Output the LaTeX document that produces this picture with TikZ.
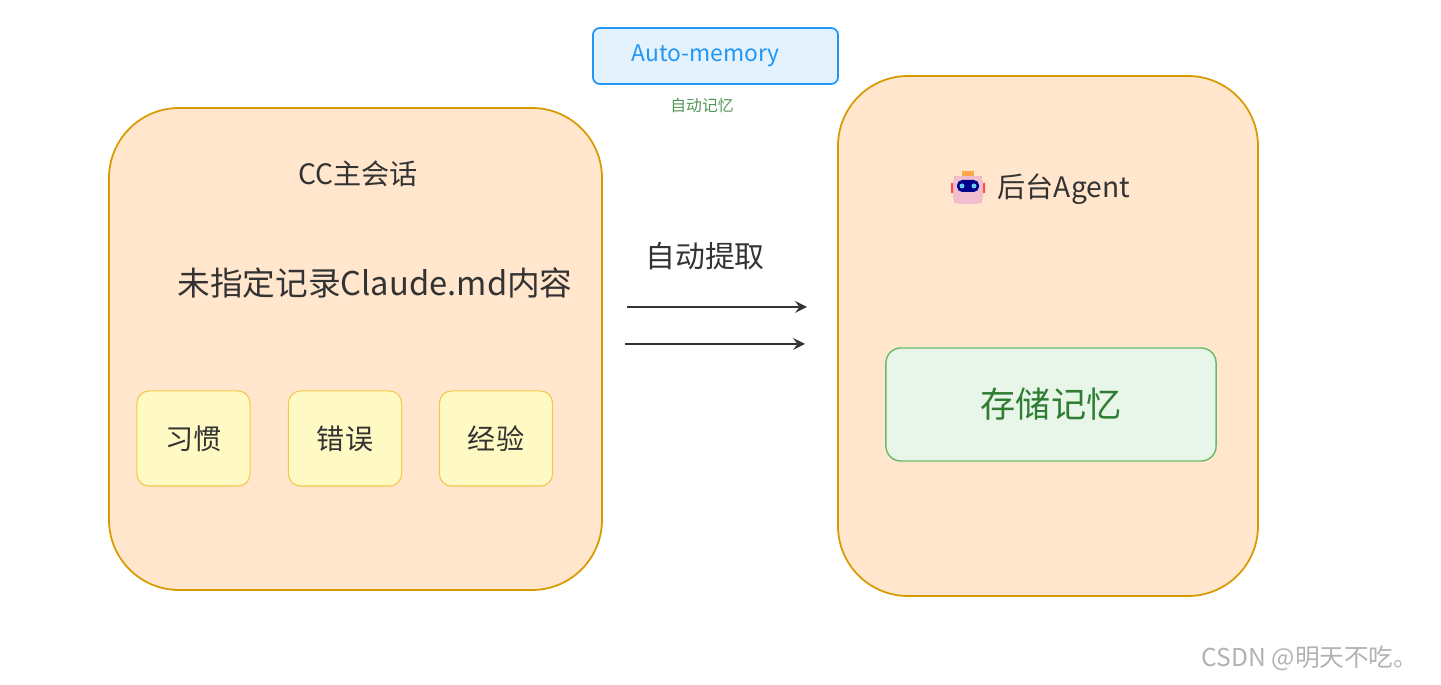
\documentclass[tikz,border=0pt]{standalone}
\usepackage{fontspec}
\setmainfont{Noto Sans CJK SC}
\definecolor{orfill}{HTML}{FFE6CC}
\definecolor{ordraw}{HTML}{D79B00}
\definecolor{yefill}{HTML}{FFF9C4}
\definecolor{yedraw}{HTML}{F2C94C}
\definecolor{blfill}{HTML}{E3F2FD}
\definecolor{bldraw}{HTML}{2196F3}
\definecolor{grfill}{HTML}{E8F5E9}
\definecolor{grdraw}{HTML}{66BB6A}
\definecolor{grtext}{HTML}{2E7D32}
\definecolor{txt}{HTML}{333333}
\begin{document}
\begin{tikzpicture}[x=0.01cm,y=-0.01cm,>=stealth,
  bigbox/.style={draw=ordraw,fill=orfill,line width=0.5pt,rounded corners=0.7cm},
  item/.style={draw=yedraw,fill=yefill,line width=0.3pt,rounded corners=0.12cm,
    minimum width=1.13cm,minimum height=0.95cm,font=\fontsize{8}{9}\selectfont,text=txt},
  lbl/.style={text=txt,inner sep=0pt}]
\useasboundingbox (0,0) rectangle (1441,685);
% main session
\draw[bigbox] (109,108) rectangle (602,590);
\node[lbl,font=\fontsize{8}{9}\selectfont] (main) at (358,174) {CC主会话};
\node[lbl,font=\fontsize{9.3}{10}\selectfont] (desc) at (375,283) {未指定记录Claude.md内容};
\node[item] (habit) at (193.5,438.5) {习惯};
\node[item] (error) at (345,438.5) {错误};
\node[item] (exp) at (496,438.5) {经验};
% background agent
\draw[bigbox] (838,76) rectangle (1258,596);
\node[lbl,font=\fontsize{8}{9}\selectfont,anchor=west] (agent) at (997,189) {后台Agent};
\begin{scope}[shift={(968,189)}]
  \fill[pink!70!purple!60] (-14,-13) rectangle (14,14);
  \fill[rounded corners=2pt,fill=purple!25] (-15,-13) rectangle (15,15);
  \fill[rounded corners=1.5pt,fill=blue!55!black] (-11,-9) rectangle (11,3);
  \fill[cyan!60] (-6,-3) circle (2.5) (6,-3) circle (2.5);
  \fill[orange!70] (-6,-18) rectangle (6,-13);
  \fill[red!70] (-17,-6) rectangle (-15,4) (15,-6) rectangle (17,4);
\end{scope}
\node[draw=grdraw,fill=grfill,line width=0.4pt,rounded corners=0.15cm,
  minimum width=3.3cm,minimum height=1.13cm,text=grtext,
  font=\fontsize{10}{11}\selectfont] (store) at (1051,404.5) {存储记忆};
% extraction
\node[lbl,font=\fontsize{8.5}{9}\selectfont] (extract) at (705,256) {自动提取};
\coordinate (a1) at (627,307); \coordinate (b1) at (807,307);
\coordinate (a2) at (625,344); \coordinate (b2) at (805,344);
\draw[->,txt,line width=0.5pt] (a1) -- (b1);
\draw[->,txt,line width=0.5pt] (a2) -- (b2);
% auto-memory tag
\node[draw=bldraw,fill=blfill,line width=0.5pt,rounded corners=0.07cm,
  minimum width=2.45cm,minimum height=0.56cm,text=bldraw,
  font=\fontsize{6.5}{7}\selectfont] (auto) at (715.5,56) {\hspace{-0.2cm}Auto-memory};
\node[lbl,text=grdraw!80!black,font=\fontsize{4.5}{5}\selectfont] (autolbl) at (702,105) {自动记忆};
% watermark
\node[lbl,text=gray!60,font=\fontsize{7}{8}\selectfont] (mark) at (1310,658) {CSDN @明天不吃。};
\end{tikzpicture}
\end{document}
